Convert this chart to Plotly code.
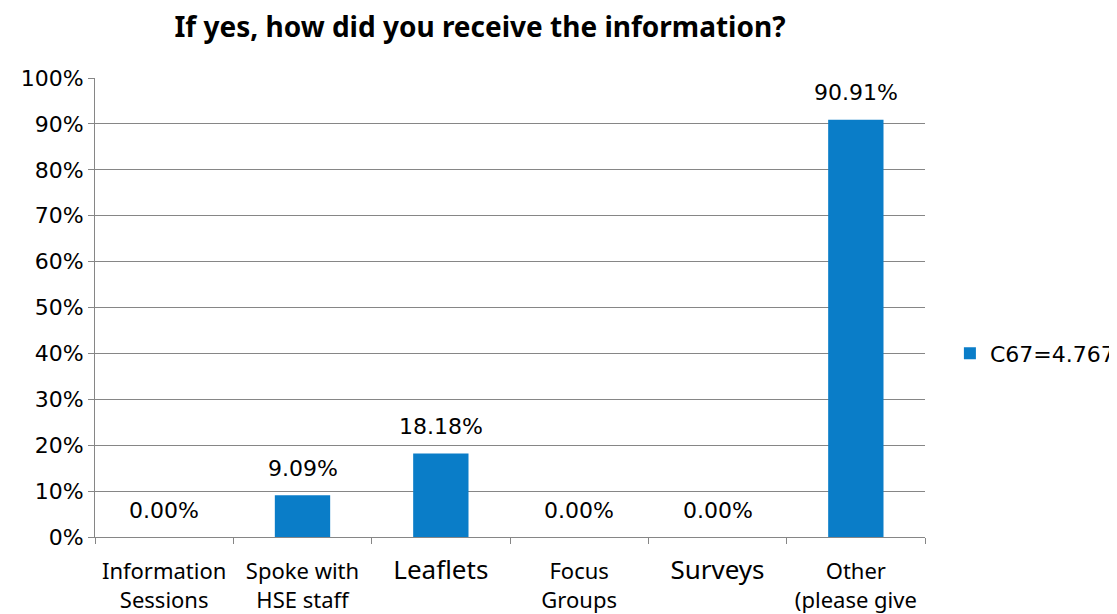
import plotly.graph_objects as go

# Categories and values
categories = ["Information Sessions", "Spoke with HSE staff", "Leaflets",
              "Focus Groups", "Surveys", "Other (please give"]
tick_labels = ["Information<br>Sessions", "Spoke with<br>HSE staff",
               "<span style='font-size:26px'>Leaflets</span>",
               "Focus<br>Groups",
               "<span style='font-size:26px'>Surveys</span>",
               "Other<br>(please give"]
values = [0.0, 9.09, 18.18, 0.0, 0.0, 90.91]
series_name = "C67=4.767"
title_text = "If yes, how did you receive the information?"

bar_color = '#0A7DC8'
axis_gray = '#868686'
label_font = "DejaVu Sans, sans-serif"

fig = go.Figure()

fig.add_trace(go.Bar(
    x=categories,
    y=values,
    name=series_name,
    marker=dict(color=bar_color, line=dict(width=0)),
    width=0.4,
    showlegend=True,
))

# value labels above each bar
for cat, v in zip(categories, values):
    fig.add_annotation(
        x=cat, y=v,
        text=f"{v:.2f}%",
        showarrow=False,
        yanchor='middle',
        yshift=27,
        font=dict(size=22, family=label_font, color='#000000'),
    )

# page body has an 8px margin, so the figure is sized/offset to fit
fig.update_layout(
    width=1109,
    height=606,
    title=dict(
        text=f"<b>{title_text}</b>",
        x=472 / 1109,
        xanchor='center',
        y=1 - 19 / 606,
        yanchor='middle',
        font=dict(size=28, color='#000000', family="Noto Sans, sans-serif"),
    ),
    font=dict(family="Noto Sans, Open Sans, sans-serif", color='#000000'),
    margin=dict(l=87, r=192, t=70, b=77, autoexpand=False),
    paper_bgcolor='#FFFFFF',
    plot_bgcolor='#FFFFFF',
    showlegend=True,
    legend=dict(
        x=1.030,
        xanchor='left',
        y=0.40,
        yanchor='middle',
        font=dict(size=22, family=label_font),
        itemwidth=30,
        bgcolor='rgba(0,0,0,0)',
    ),
    xaxis=dict(
        tickmode='array',
        tickvals=categories,
        ticktext=tick_labels,
        tickfont=dict(size=22, family="Noto Sans, sans-serif"),
        ticks='outside',
        tickson='boundaries',
        ticklen=6,
        tickcolor=axis_gray,
        ticklabelstandoff=15,
        showline=True,
        linecolor=axis_gray,
        linewidth=1,
        showgrid=False,
        automargin=False,
    ),
    yaxis=dict(
        range=[0, 100],
        tickvals=list(range(0, 101, 10)),
        ticktext=[f"{v}%" for v in range(0, 101, 10)],
        tickfont=dict(size=22, family=label_font),
        ticks='outside',
        ticklen=6,
        tickcolor=axis_gray,
        showline=True,
        linecolor=axis_gray,
        linewidth=1,
        showgrid=True,
        gridcolor=axis_gray,
        gridwidth=1,
        zeroline=False,
        automargin=False,
    ),
    bargap=0.6,
)

fig.write_html("out.html")
